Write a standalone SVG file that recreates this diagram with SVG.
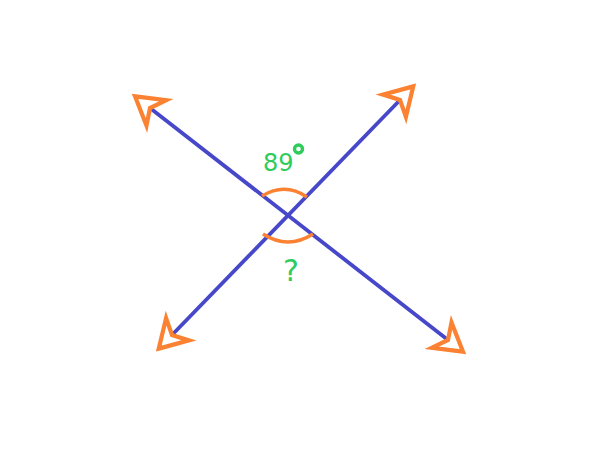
<svg xmlns="http://www.w3.org/2000/svg" width="600" height="450" viewBox="0 0 600 450">
  <style>
    .ray { stroke: #4747c9; stroke-width: 3.8; fill: none; stroke-linecap: butt; }
    .arc { stroke: #fb8232; stroke-width: 3.5; fill: none; }
    .lbl { fill: #2ecc5a; font-family: "DejaVu Sans", "Noto Sans", sans-serif; }
  </style>
  <defs>
    <marker id="arrow" markerUnits="userSpaceOnUse" orient="auto-start-reverse" refX="0" refY="0" markerWidth="60" markerHeight="60" viewBox="-30 -30 60 60" overflow="visible">
      <path d="M19,0 L-8,-16 L0,0 L-8,16 Z" fill="#ffffff" stroke="#fb8232" stroke-width="4.2" stroke-linejoin="miter"/>
    </marker>
  </defs>
  <rect width="600" height="450" fill="#ffffff"/>
  <g id="connectors">
    <line id="line1" class="ray" x1="150" y1="108" x2="448" y2="340" marker-start="url(#arrow)" marker-end="url(#arrow)"/>
    <line id="line2" class="ray" x1="400" y1="100" x2="172" y2="335" marker-start="url(#arrow)" marker-end="url(#arrow)"/>
  </g>
  <g id="angle-top">
    <path class="arc" d="M262,196 Q285,182 307,197"/>
    <text class="lbl" x="263" y="171" font-size="24">89</text>
    <circle cx="298.5" cy="149" r="4" fill="none" stroke="#2ecc5a" stroke-width="3.4"/>
  </g>
  <g id="angle-bottom">
    <path class="arc" d="M263,234 Q288,250 313,234"/>
    <text class="lbl" x="291" y="281" font-size="30" text-anchor="middle">?</text>
  </g>
</svg>
